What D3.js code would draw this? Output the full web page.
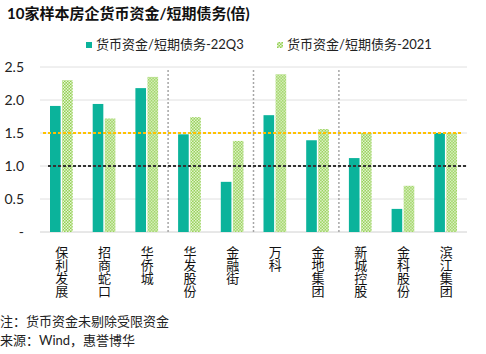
<!DOCTYPE html>
<html>
<head>
<meta charset="utf-8">
<script src="https://cdn.jsdelivr.net/npm/d3@7"></script>
<style>
  body { margin: 0; background: #fff; }
  text { font-family: Lato, "Noto Sans CJK SC", sans-serif; }
</style>
</head>
<body>
<div id="chart"></div>
<script>
// datos
const companies = ["保利发展", "招商蛇口", "华侨城", "华发股份", "金融街", "万科", "金地集团", "新城控股", "金科股份", "滨江集团"];
const series22Q3 = [1.91, 1.94, 2.18, 1.48, 0.76, 1.77, 1.39, 1.12, 0.35, 1.50];
const series2021 = [2.30, 1.72, 2.35, 1.74, 1.38, 2.39, 1.56, 1.50, 0.70, 1.50];
const seriesNames = ["货币资金/短期债务-22Q3", "货币资金/短期债务-2021"];
const yTicks = [0, 0.5, 1.0, 1.5, 2.0, 2.5];
const refLines = [1.5, 1.0];
const groupBreaks = [3, 5, 7]; // separadores después de estas categorías

const W = 486, H = 354;
const margin = { top: 67, right: 19, bottom: 122, left: 40 };
const width = W - margin.left - margin.right;
const height = H - margin.top - margin.bottom;

const svg = d3.select("#chart").append("svg")
    .attr("width", W)
    .attr("height", H);

// patrón a cuadros para 2021
const defs = svg.append("defs");
const pat = defs.append("pattern")
    .attr("id", "checker")
    .attr("patternUnits", "userSpaceOnUse")
    .attr("width", 3).attr("height", 3);
pat.append("rect").attr("width", 3).attr("height", 3).attr("fill", "#92d050");
pat.append("rect").attr("width", 1.5).attr("height", 1.5).attr("fill", "#e8f5d8");
pat.append("rect").attr("x", 1.5).attr("y", 1.5).attr("width", 1.5).attr("height", 1.5).attr("fill", "#e8f5d8");

const g = svg.append("g")
    .attr("transform", "translate(" + margin.left + "," + margin.top + ")");

const x = d3.scaleBand().domain(companies).range([0, width]);
const y = d3.scaleLinear().domain([0, 2.5]).range([height, 0]);

// rejilla
g.append("g").selectAll("line")
    .data(yTicks)
    .enter().append("line")
    .attr("x1", 0).attr("x2", width)
    .attr("y1", d => y(d)).attr("y2", d => y(d))
    .attr("stroke", d => d === 0 ? "#d0d0d0" : "#e0e0e0")
    .attr("stroke-width", 1);

// eje Y
const yAxis = d3.axisLeft(y)
    .tickValues(yTicks)
    .tickSize(0)
    .tickPadding(16)
    .tickFormat(d => d === 0 ? "-" : d3.format(".1f")(d));
g.append("g")
    .call(yAxis)
    .call(s => s.select(".domain").remove())
    .selectAll("text")
    .style("font-size", "14px")
    .attr("fill", "#222");

// separadores verticales
g.append("g").selectAll("line")
    .data(groupBreaks)
    .enter().append("line")
    .attr("x1", d => x.step() * d).attr("x2", d => x.step() * d)
    .attr("y1", 3).attr("y2", height)
    .attr("stroke", "#a6a6a6")
    .attr("stroke-width", 1.5)
    .attr("stroke-dasharray", "2,2");

// barras
const x1 = d3.scaleBand().domain([0, 1]).range([10, x.bandwidth() - 10]).paddingInner(0.12);
const grp = g.selectAll(".grp")
    .data(companies)
    .enter().append("g")
    .attr("transform", d => "translate(" + x(d) + ",0)");

grp.append("rect")
    .attr("x", x1(0))
    .attr("width", x1.bandwidth())
    .attr("y", (d, i) => y(series22Q3[i]))
    .attr("height", (d, i) => height - y(series22Q3[i]))
    .attr("fill", "#0bb39b");

grp.append("rect")
    .attr("x", x1(1))
    .attr("width", x1.bandwidth())
    .attr("y", (d, i) => y(series2021[i]))
    .attr("height", (d, i) => height - y(series2021[i]))
    .attr("fill", "url(#checker)");

// líneas de referencia
g.append("line")
    .attr("x1", 3).attr("x2", width - 4)
    .attr("y1", y(refLines[0])).attr("y2", y(refLines[0]))
    .attr("stroke", "#ffc000").attr("stroke-width", 2)
    .attr("stroke-dasharray", "3,2");
g.append("line")
    .attr("x1", 8).attr("x2", width)
    .attr("y1", y(refLines[1])).attr("y2", y(refLines[1]))
    .attr("stroke", "#333").attr("stroke-width", 2)
    .attr("stroke-dasharray", "3,2");

// etiquetas verticales
g.append("g").selectAll("text")
    .data(companies)
    .enter().append("text")
    .attr("x", d => x(d) + x.bandwidth() / 2)
    .attr("y", height + 14)
    .style("writing-mode", "vertical-rl")
    .style("font-size", "13px")
    .attr("fill", "#111")
    .text(d => d);

// título
svg.append("text")
    .attr("x", 7).attr("y", 19)
    .style("font-size", "15px")
    .style("font-weight", "bold")
    .attr("fill", "#111")
    .text("10家样本房企货币资金/短期债务(倍)");

// leyenda
const legend = [
    { name: seriesNames[0], fill: "#0bb39b", x: 86 },
    { name: seriesNames[1], fill: "url(#checker)", x: 277 }
];
const lg = svg.append("g").selectAll("g")
    .data(legend)
    .enter().append("g")
    .attr("transform", d => "translate(" + d.x + ",42)");
lg.append("rect")
    .attr("width", 6).attr("height", 6)
    .attr("fill", d => d.fill);
lg.append("text")
    .attr("x", 10).attr("y", 7)
    .style("font-size", "13px")
    .attr("fill", "#222")
    .text(d => d.name);

// notas
svg.append("text")
    .attr("x", 0).attr("y", 326)
    .style("font-size", "13px")
    .attr("fill", "#222")
    .text("注：货币资金未剔除受限资金");
svg.append("text")
    .attr("x", 0).attr("y", 345)
    .style("font-size", "13px")
    .attr("fill", "#222")
    .text("来源：Wind，惠誉博华");
</script>
</body>
</html>
